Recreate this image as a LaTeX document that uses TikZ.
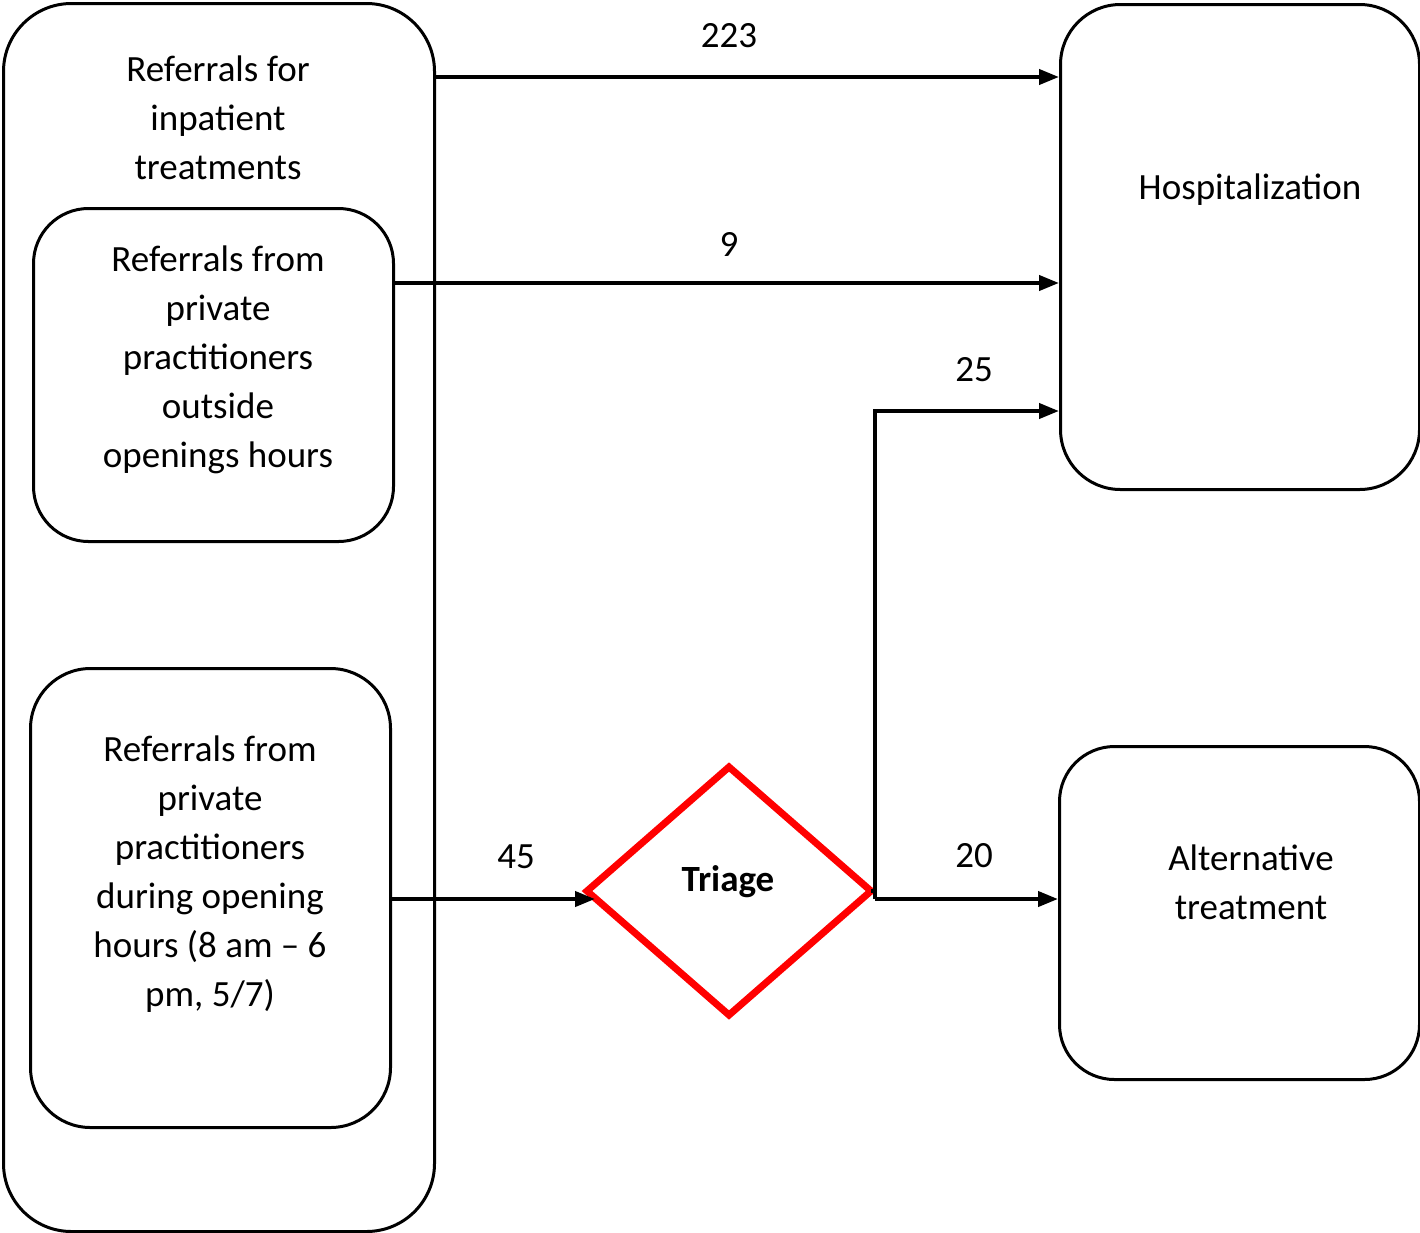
\documentclass[tikz,border=0pt]{standalone}
\usepackage{fontspec}
\setmainfont{Carlito}
\usetikzlibrary{shapes.geometric,arrows.meta}
\begin{document}
\begin{tikzpicture}[x=1pt,y=-1pt,
  box/.style={draw=black,line width=3pt,rounded corners=#1},
  box/.default=60pt,
  txt/.style={align=center,font=\fontsize{37}{49}\selectfont,inner sep=0pt},
  num/.style={font=\fontsize{37}{42}\selectfont,inner sep=0pt},
  arr/.style={draw=black,line width=4pt,-{Triangle[length=20pt,width=15pt]}},
  ln/.style={draw=black,line width=4pt}
]
\useasboundingbox (0,0) rectangle (1420,1232);
% boxes
\node[box=68pt,minimum width=431pt,minimum height=1228pt,anchor=north west] (outer) at (2,2) {};
\node[box=55pt,minimum width=360pt,minimum height=333pt,anchor=north west] (bA) at (32,207) {};
\node[box=60pt,minimum width=360pt,minimum height=459pt,anchor=north west] (bB) at (29,667) {};
\node[box=60pt,minimum width=359pt,minimum height=485pt,anchor=north west] (hosp) at (1059,3) {};
\node[box=55pt,minimum width=360pt,minimum height=333pt,anchor=north west] (alt) at (1058,745) {};
\node[draw=red,line width=7pt,shape=diamond,minimum width=284pt,minimum height=248pt,inner sep=0pt,outer sep=0pt] (tri) at (729,891) {};
% texts
\node[txt] (tOuter) at (218,118) {Referrals for\\inpatient\\treatments};
\node[txt] (tA) at (218,360) {Referrals from\\private\\practitioners\\outside\\openings hours};
\node[txt] (tB) at (210,874) {Referrals from\\private\\practitioners\\during opening\\hours (8 am – 6\\pm, 5/7)};
\node[txt] (tHosp) at (1250,190) {Hospitalization};
\node[txt] (tAlt) at (1251,882) {Alternative\\treatment};
\node[txt,font=\fontsize{37}{49}\selectfont\bfseries] (tTri) at (728,882) {Triage};
% connectors
\coordinate (j) at (875,899);
\draw[arr] (outer.east |- 0,77) -- (hosp.west |- 0,77);
\draw[arr] (bA.east |- 0,283) -- (hosp.west |- 0,283);
\draw[arr] (bB.east |- 0,899) -- ([xshift=8pt]tri.west |- 0,899);
\draw[ln] (tri.east) -- (j |- tri.east);
\draw[arr] (j) -- (j |- 0,411) -- (hosp.west |- 0,411);
\draw[arr] (j) -- (alt.west |- j);
% labels
\node[num] (n223) at (729,36) {223};
\node[num] (n9) at (729,244) {9};
\node[num] (n45) at (516,857) {45};
\node[num] (n25) at (974,370) {25};
\node[num] (n20) at (974,856) {20};
\end{tikzpicture}
\end{document}
